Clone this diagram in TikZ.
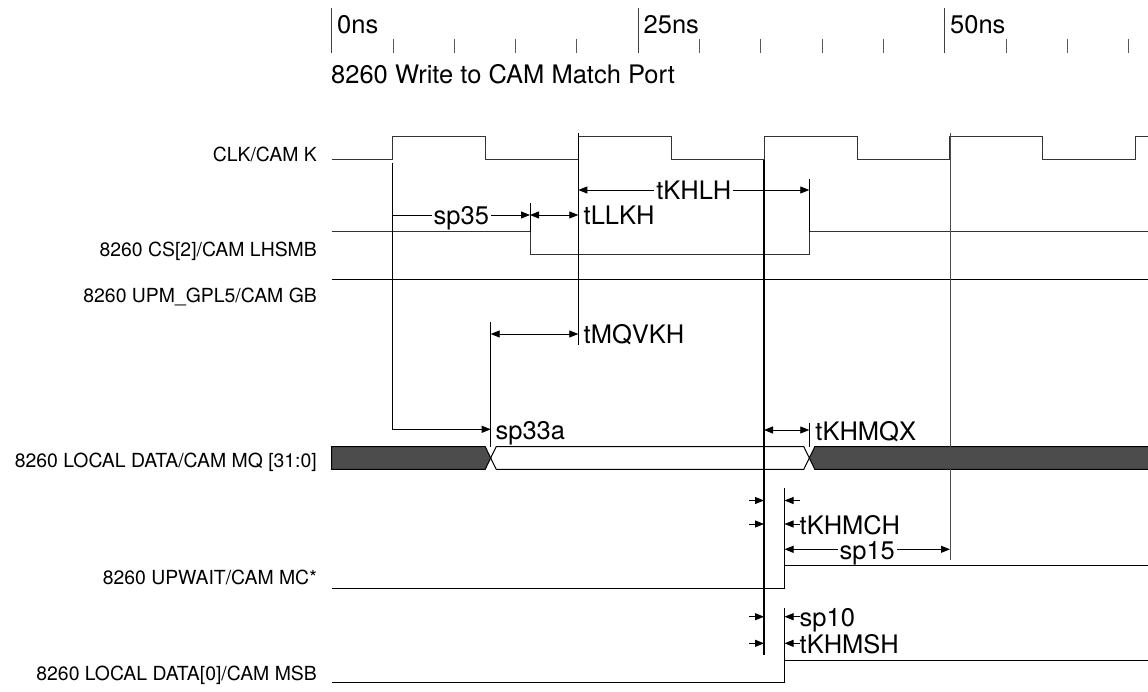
\documentclass[tikz,border=0pt]{standalone}
\usepackage{fontspec}
\setmainfont{TeX Gyre Heros}
\usetikzlibrary{arrows.meta, positioning}

\begin{document}
\begin{tikzpicture}[x=1pt, y=-1pt]
	
	\tikzset{wave/.style={line width=1pt, draw=black!80},
		guide/.style={line width=1pt, draw=black},
		tmark/.style={-{Triangle[length=9pt,width=7pt]}, line width=0.8pt},
		both/.style={{Triangle[length=9pt,width=7pt]}-{Triangle[length=9pt,width=7pt]}, line width=0.8pt},
		big/.style={font=\fontsize{25.5}{28}\selectfont, inner sep=0pt},
		tlabel/.style={big, anchor=base west, yshift=-10pt},
		mlabel/.style={big, inner xsep=2pt, fill=white, anchor=base, yshift=-10pt},
		slabel/.style={font=\fontsize{19.4}{22}\selectfont, inner sep=0pt, anchor=base east},
		bus/.style={draw=black, line width=1pt}
	}
	
	\useasboundingbox (0,0) rectangle (1148,692);
	
	\foreach \t/\lab in {0/0ns, 25/25ns, 50/50ns}{
		\draw[line width=1pt, black!75] ({331.7+12.26*\t},8) -- ({331.7+12.26*\t},53);
		\node[big, anchor=base west] (r\t) at ({337+12.26*\t},34) {\lab};
	}
	\foreach \t in {5,10,15,20,30,35,40,45,55,60,65}
		\draw[line width=1pt, black!65] ({331.7+12.26*\t},39) -- ++(0,14);
	\node[big, anchor=base west] (title) at (331,84) {8260 Write to CAM Match Port};
	
	\node[slabel] (clk) at (317,162) {CLK/CAM K};
	\node[slabel] (cs) at (317,256.5) {8260 CS[2]/CAM LHSMB};
	\node[slabel] (gb) at (317,302.5) {8260 UPM\_GPL5/CAM GB};
	\node[slabel] (mq) at (317,467.5) {8260 LOCAL DATA/CAM MQ [31:0]};
	\node[slabel] (mc) at (317,584.5) {8260 UPWAIT/CAM MC*};
	\node[slabel] (msb) at (317,680) {8260 LOCAL DATA[0]/CAM MSB};
	
	\coordinate (k5) at (392.7,0);
	\coordinate (k20) at (578.3,0);
	\coordinate (k35) at (764,0);
	\coordinate (k50) at (950,0);
	\coordinate (csf) at (530,0);
	\coordinate (csr) at (809.3,0);
	\coordinate (dv) at (490.7,0);
	\coordinate (mch) at (784.5,0);
	
	\draw[wave] (331.7,160) foreach \k in {0,...,3} {-- ({392.7+185.75*\k},160) -- ++(0,-23.3) -- ++(93,0) -- ++(0,23.3)}
		-- (1135.7,160) -- (1135.7,136.7) -- (1148,136.7);
	\draw[wave] (331.7,231.7) -- (csf |- 0,231.7) -- (csf |- 0,255) -- (csr |- 0,255) -- (csr |- 0,231.7) -- (1148,231.7);
	\draw[wave, black] (331.7,279.3) -- (1148,279.3);
	
	\filldraw[bus, fill=black!70] (331.7,446.7) -- (485.2,446.7) -- (dv |- 0,458) -- (485.2,469.3) -- (331.7,469.3) -- cycle;
	\draw[bus] (dv |- 0,458) -- (496.2,446.7) -- (803.8,446.7) -- (csr |- 0,458) -- (803.8,469.3) -- (496.2,469.3) -- cycle;
	\fill[black!70] (1148,446.7) -- (814.8,446.7) -- (csr |- 0,458) -- (814.8,469.3) -- (1148,469.3) -- cycle;
	\draw[bus] (1148,446.7) -- (814.8,446.7) -- (csr |- 0,458) -- (814.8,469.3) -- (1148,469.3);
	
	\draw[wave, black] (331.7,588.3) -- (mch |- 0,588.3) -- (mch |- 0,565) -- (1148,565);
	\draw[wave, black] (331.7,682.7) -- (mch |- 0,682.7) -- (mch |- 0,660.7) -- (1148,660.7);
	
	\draw[guide, tmark] (k5 |- 0,163) -- (k5 |- 0,429.3) -- (dv |- 0,429.3) node[tlabel, xshift=4.5pt] {sp33a};
	\draw[tmark] (k5 |- 0,215) -- node[mlabel] {sp35} (csf |- 0,215);
	\draw[guide] (csf |- 0,203.3) -- (csf |- 0,231.7);
	\draw[both] (csf |- 0,215) -- (k20 |- 0,215) node[tlabel, xshift=5pt] {tLLKH};
	\draw[guide] (k20 |- 0,133) -- (k20 |- 0,345);
	\draw[both] (k20 |- 0,190) -- node[mlabel] {tKHLH} (csr |- 0,190);
	\draw[guide] (csr |- 0,179) -- (csr |- 0,231.7);
	\draw[guide] (dv |- 0,322) -- (dv |- 0,446.7);
	\draw[both] (dv |- 0,334) -- (k20 |- 0,334) node[tlabel, xshift=5pt] {tMQVKH};
	\draw[guide, line width=2pt] (k35 |- 0,160) -- (k35 |- 0,655);
	\draw[both] (k35 |- 0,430) -- (csr |- 0,430) node[tlabel, xshift=5.7pt] {tKHMQX};
	\draw[guide] (csr |- 0,423) -- (csr |- 0,446.7);
	\draw[guide, black!70] (k50 |- 0,133) -- (k50 |- 0,560);
	\draw[guide] (mch |- 0,488) -- (mch |- 0,565);
	\draw[guide] (mch |- 0,608.3) -- (mch |- 0,660.7);
	\draw[both] (mch |- 0,549.3) -- node[mlabel] {sp15} (k50 |- 0,549.3);
	
	\foreach \y in {500.5,524,616.7,643.3}{
		\draw[tmark] ([xshift=-15pt]k35 |- 0,\y) -- (k35 |- 0,\y);
		\draw[tmark] ([xshift=15pt]mch |- 0,\y) -- (mch |- 0,\y);
	}
	\node[tlabel] (kmch) at (799.5,524) {tKHMCH};
	\node[tlabel] (sp10) at (799.5,616.7) {sp10};
	\node[tlabel] (kmsh) at (799.5,643.3) {tKHMSH};
	
\end{tikzpicture}
\end{document}
